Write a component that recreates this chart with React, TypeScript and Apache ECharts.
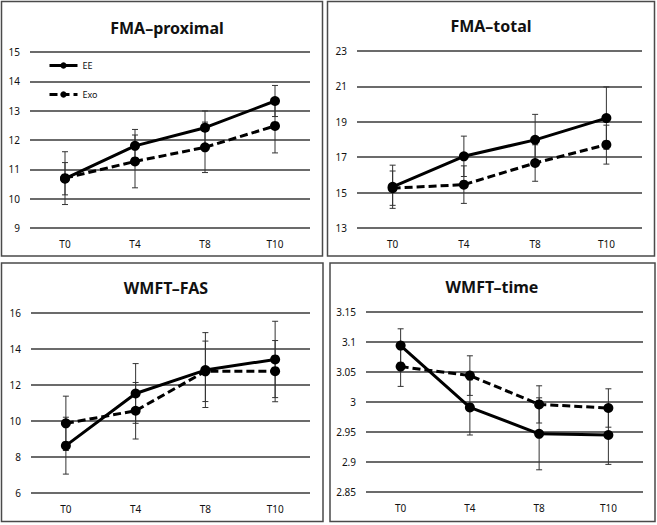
import React, { useEffect, useRef } from "react";
import * as echarts from "echarts";

const categories = ["T0", "T4", "T8", "T10"];

const titles = ["FMA–proximal", "FMA–total", "WMFT–FAS", "WMFT–time"];

// FMA-proximal
const eeProx = [10.68, 11.8, 12.42, 13.33];
const exoProx = [10.7, 11.27, 11.75, 12.48];
const eeProxErr = [0.55, 0.56, 0.57, 0.53];
const exoProxErr = [0.9, 0.9, 0.86, 0.92];

// FMA-total
const eeTotal = [15.33, 17.05, 17.98, 19.21];
const exoTotal = [15.25, 15.45, 16.67, 17.71];
const eeTotalErr = [1.22, 1.14, 1.44, 1.76];
const exoTotalErr = [0.97, 1.06, 1.03, 1.1];

// WMFT-FAS
const eeFas = [8.63, 11.53, 12.83, 13.42];
const exoFas = [9.87, 10.57, 12.76, 12.77];
const eeFasErr = [1.58, 1.66, 2.08, 2.12];
const exoFasErr = [1.51, 1.57, 1.68, 1.7];

// WMFT-time
const eeTime = [3.094, 2.991, 2.947, 2.945];
const exoTime = [3.059, 3.044, 2.996, 2.99];
const eeTimeErr = [0.028, 0.046, 0.06, 0.049];
const exoTimeErr = [0.033, 0.033, 0.031, 0.032];

const yMins = [9, 13, 6, 2.85];
const yMaxs = [15, 23, 16, 3.15];
const yIntervals = [1, 2, 2, 0.05];

const FONT = "'Noto Sans', 'DejaVu Sans', sans-serif";

const panels = [
  { ee: eeProx, exo: exoProx, eeErr: eeProxErr, exoErr: exoProxErr },
  { ee: eeTotal, exo: exoTotal, eeErr: eeTotalErr, exoErr: exoTotalErr },
  { ee: eeFas, exo: exoFas, eeErr: eeFasErr, exoErr: exoFasErr },
  { ee: eeTime, exo: exoTime, eeErr: eeTimeErr, exoErr: exoTimeErr },
];

const gridBoxes = [
  { left: 30, top: 52, width: 280, height: 176 },
  { left: 357, top: 51, width: 285, height: 177 },
  { left: 31, top: 313, width: 279, height: 180 },
  { left: 366, top: 312, width: 277, height: 180 },
];

const frameBoxes = [
  { x: 1.5, y: 1.5, width: 321, height: 254.5 },
  { x: 327.5, y: 1.5, width: 327, height: 254.5 },
  { x: 1.5, y: 263, width: 321.5, height: 258.5 },
  { x: 330, y: 263, width: 325, height: 258.5 },
];

const titlePos = [
  { x: 167, y: 28 },
  { x: 491, y: 26 },
  { x: 166, y: 288 },
  { x: 492, y: 287 },
];

function errData(vals: number[], errs: number[]) {
  return vals.map((v, i) => [i, v - errs[i], v + errs[i]]);
}

function errorRender(params: any, api: any) {
  const x = api.value(0);
  const lo = api.value(1);
  const hi = api.value(2);
  const pHi = api.coord([x, hi]);
  const pLo = api.coord([x, lo]);
  const w = 3;
  const style = { stroke: "#333", lineWidth: 1 };
  return {
    type: "group",
    children: [
      { type: "line", shape: { x1: pHi[0], y1: pHi[1], x2: pLo[0], y2: pLo[1] }, style },
      { type: "line", shape: { x1: pHi[0] - w, y1: pHi[1], x2: pHi[0] + w, y2: pHi[1] }, style },
      { type: "line", shape: { x1: pLo[0] - w, y1: pLo[1], x2: pLo[0] + w, y2: pLo[1] }, style },
    ],
  };
}

export default function App() {
  const ref = useRef<HTMLDivElement>(null);
  useEffect(() => {
    if (!ref.current) return;
    const chart = echarts.init(ref.current, undefined, { renderer: "svg" });

    const series: any[] = [];
    panels.forEach((p, i) => {
      series.push({
        type: "custom",
        name: "errEE" + i,
        xAxisIndex: i,
        yAxisIndex: i,
        renderItem: errorRender,
        encode: { x: 0, y: [1, 2] },
        data: errData(p.ee, p.eeErr),
        z: 1,
        silent: true,
      });
      series.push({
        type: "custom",
        name: "errExo" + i,
        xAxisIndex: i,
        yAxisIndex: i,
        renderItem: errorRender,
        encode: { x: 0, y: [1, 2] },
        data: errData(p.exo, p.exoErr),
        z: 1,
        silent: true,
      });
      series.push({
        type: "line",
        name: "EE",
        xAxisIndex: i,
        yAxisIndex: i,
        data: p.ee,
        symbol: "circle",
        symbolSize: 10,
        lineStyle: { color: "#000", width: 3 },
        itemStyle: { color: "#000" },
        z: 3,
      });
      series.push({
        type: "line",
        name: "Exo",
        xAxisIndex: i,
        yAxisIndex: i,
        data: p.exo,
        symbol: "circle",
        symbolSize: 10,
        lineStyle: { color: "#000", width: 3, type: [8, 4] },
        itemStyle: { color: "#000" },
        z: 2,
      });
    });

    const graphic: any[] = [];
    frameBoxes.forEach((b) => {
      graphic.push({
        type: "rect",
        shape: b,
        style: { fill: "none", stroke: "#4a4a4a", lineWidth: 1.5 },
        silent: true,
      });
    });
    titles.forEach((t, i) => {
      graphic.push({
        type: "text",
        x: titlePos[i].x,
        y: titlePos[i].y,
        style: {
          text: t,
          font: `bold 16px ${FONT}`,
          fill: "#111",
          textAlign: "center",
          textVerticalAlign: "middle",
        },
      });
    });

    chart.setOption({
      animation: false,
      backgroundColor: "#fff",
      grid: gridBoxes.map((g) => ({ ...g, containLabel: false })),
      xAxis: gridBoxes.map((_, i) => ({
        type: "category",
        gridIndex: i,
        data: categories,
        boundaryGap: true,
        axisLine: { show: false },
        axisTick: { show: false },
        axisLabel: { fontSize: 10, color: "#111", margin: 11, fontFamily: FONT },
        splitLine: { show: false },
      })),
      yAxis: gridBoxes.map((_, i) => ({
        type: "value",
        gridIndex: i,
        min: yMins[i],
        max: yMaxs[i],
        interval: yIntervals[i],
        axisLine: { show: false },
        axisTick: { show: false },
        axisLabel: { fontSize: 10, color: "#111", margin: 10, fontFamily: FONT },
        splitLine: { show: true, lineStyle: { color: "#3a3a3a", width: 1.5 } },
      })),
      legend: {
        data: ["EE", "Exo"],
        orient: "vertical",
        left: 48,
        top: 61,
        padding: 0,
        itemWidth: 28,
        itemHeight: 8,
        itemGap: 20,
        lineStyle: { width: 3, color: "#000" },
        textStyle: { fontSize: 9, color: "#111", fontFamily: FONT },
      },
      graphic,
      series,
    });
    return () => chart.dispose();
  }, []);
  return (
    <div
      ref={ref}
      style={{ position: "absolute", left: 0, top: 0, width: 657, height: 525, background: "#fff" }}
    />
  );
}
